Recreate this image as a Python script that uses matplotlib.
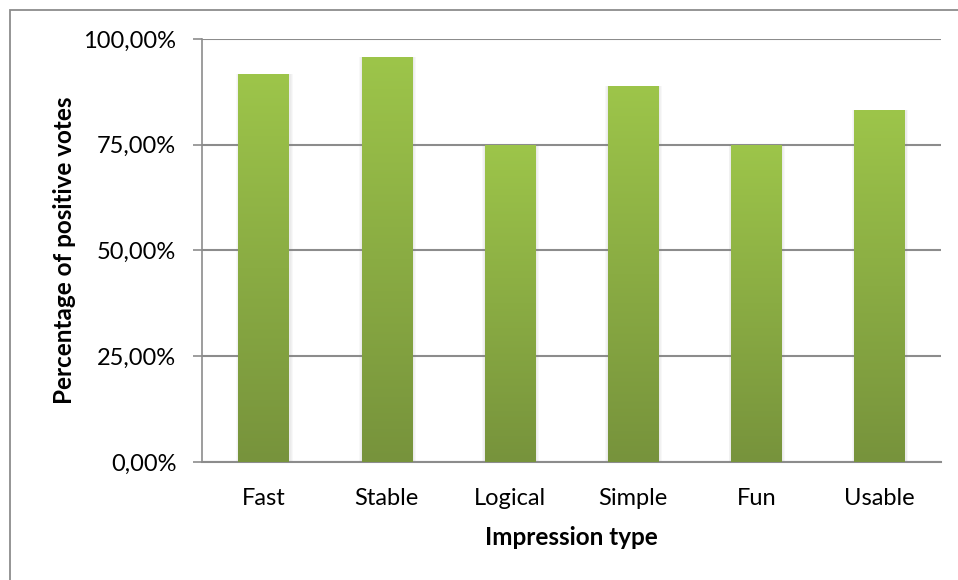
import numpy as np
import matplotlib.pyplot as plt
from matplotlib.patches import Rectangle
from matplotlib.colors import LinearSegmentedColormap
from matplotlib.ticker import FuncFormatter

# Share of positive votes per impression type
impressions = ['Fast', 'Stable', 'Logical', 'Simple', 'Fun', 'Usable']
positive_pct = [91.67, 95.83, 75.00, 88.89, 75.00, 83.33]
y_ticks = [0, 25, 50, 75, 100]

plt.rcParams['font.family'] = ['Lato', 'DejaVu Sans']

W, H = 958, 580
fig = plt.figure(figsize=(W / 100, H / 100), dpi=100)
ax = fig.add_axes([202 / W, 1 - 462 / H, 739 / W, 423 / H])

x = np.arange(len(impressions))
bar_w = 0.41

# soft drop shadow behind each bar
for k, a in zip([0.05, 0.035, 0.02], [0.05, 0.05, 0.05]):
    ax.bar(x + 0.005, positive_pct, width=bar_w + k, color='#808080',
           alpha=a, linewidth=0, zorder=2)

bars = ax.bar(x, positive_pct, width=bar_w, color='none', linewidth=0, zorder=3)

# vertical gradient fill, light green on top to olive at the base
green = LinearSegmentedColormap.from_list('green', ['#77933c', '#9dc54a'])
grad = np.linspace(0, 1, 256).reshape(-1, 1)
for b in bars:
    x0, w, h = b.get_x(), b.get_width(), b.get_height()
    im = ax.imshow(grad, cmap=green, origin='lower', aspect='auto',
                   extent=[x0, x0 + w, 0, h], zorder=4)
    im.set_clip_path(b)

ax.set_xlim(-0.5, len(impressions) - 0.5)
ax.set_ylim(0, 100)
ax.set_yticks(y_ticks)
ax.yaxis.set_major_formatter(FuncFormatter(lambda v, p: f'{v:.2f}%'.replace('.', ',')))
ax.set_xticks(x)
ax.set_xticklabels(impressions)

ax.grid(axis='y', color='#8c8c8c', linewidth=1.5, zorder=1)
ax.set_axisbelow(True)
for s in ['top', 'right']:
    ax.spines[s].set_visible(False)
ax.spines['left'].set_color('#8c8c8c')
ax.spines['left'].set_linewidth(1.2)
ax.spines['bottom'].set_color('#8c8c8c')
ax.spines['bottom'].set_linewidth(1.5)

ax.tick_params(axis='y', length=6.5, width=1.2, color='#8c8c8c', labelsize=17, pad=12)
ax.tick_params(axis='x', length=0, labelsize=17, pad=19)

ax.set_ylabel('Percentage of positive votes', fontsize=17.5, fontweight='bold', labelpad=5)
ax.set_xlabel('Impression type', fontsize=17.5, fontweight='bold', labelpad=12)

# chart-area border, running off the right and bottom edges
fig.patches.append(Rectangle((10 / W, -0.05), 1.0, 1 - 9.5 / H + 0.05, transform=fig.transFigure,
                             fill=False, edgecolor='#8c8c8c', linewidth=1.3))

fig.savefig('out.png', dpi=100)
